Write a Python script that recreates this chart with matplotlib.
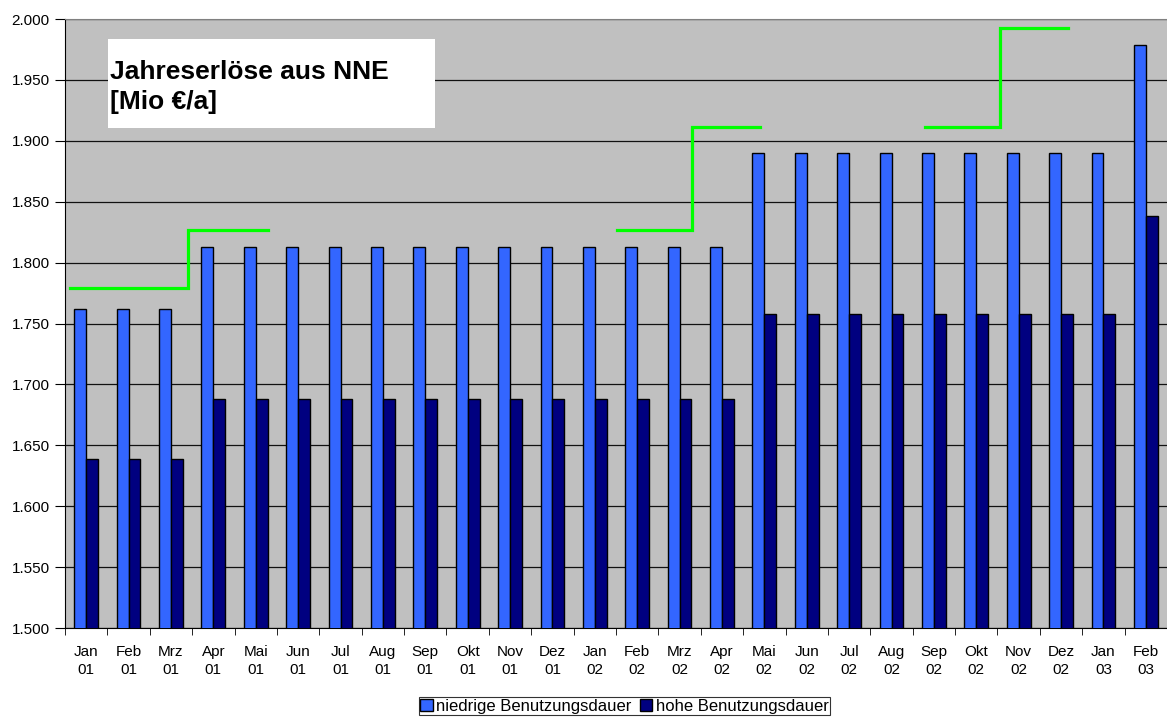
import numpy as np
import matplotlib
matplotlib.use("Agg")
import matplotlib.pyplot as plt
from matplotlib.patches import Rectangle
from matplotlib.ticker import FuncFormatter

plt.rcParams['font.family'] = ['Liberation Sans', 'DejaVu Sans']

# Monate
monate = ["Jan", "Feb", "Mrz", "Apr", "Mai", "Jun", "Jul", "Aug", "Sep", "Okt", "Nov", "Dez",
          "Jan", "Feb", "Mrz", "Apr", "Mai", "Jun", "Jul", "Aug", "Sep", "Okt", "Nov", "Dez",
          "Jan", "Feb"]
jahre = ["01"] * 12 + ["02"] * 12 + ["03"] * 2

# Jahreserlöse [Mio €/a]
niedrige = [1762, 1762, 1762] + [1813] * 13 + [1890] * 9 + [1979]
hohe = [1639, 1639, 1639] + [1688] * 13 + [1758] * 9 + [1838]

# Stufenlinien (Positionen in Kategorien: Start, Sprung, Ende; Niveau vorher/nachher)
stufen_x = [(-0.38, 2.4, 4.29), (12.52, 14.3, 15.9), (19.8, 21.56, 23.17)]
stufen_y = [(1779, 1827), (1827, 1911), (1911, 1993)]

fig = plt.figure(figsize=(11.67, 7.17), dpi=100)
ax = fig.add_axes([0.0557, 0.1241, 0.9443, 0.8494])
ax.set_facecolor("#c0c0c0")

x = np.arange(len(monate))
b = 0.28
ax.bar(x - b / 2, niedrige, width=b, color="#3366ff", edgecolor="black", linewidth=1,
       label="niedrige Benutzungsdauer", zorder=3)
ax.bar(x + b / 2, hohe, width=b, color="#000080", edgecolor="black", linewidth=1,
       label="hohe Benutzungsdauer", zorder=3)

for (x0, x1, x2), (y0, y1) in zip(stufen_x, stufen_y):
    ax.plot([x0, x1, x1, x2], [y0, y0, y1, y1], color="#00ff00", linewidth=2.3, zorder=4,
            solid_joinstyle="miter")

ax.set_xlim(-0.5, len(monate) - 0.5)
ax.set_ylim(1500, 2000)
ax.set_yticks(np.arange(1500, 2001, 50))
ax.yaxis.set_major_formatter(FuncFormatter(lambda v, p: f"{v:,.0f}".replace(",", ".")))
ax.grid(axis="y", color="#111111", linewidth=0.9, zorder=1)

ax.set_xticks(x)
ax.set_xticklabels([m + "\n" + j for m, j in zip(monate, jahre)], fontsize=11,
                   linespacing=1.35)
ax.tick_params(axis="x", length=0, pad=12)
ax.set_xticks(np.arange(-0.5, len(monate)), minor=True)
ax.tick_params(axis="x", which="minor", length=5, direction="out", color="black")
ax.tick_params(axis="y", labelsize=11, length=7, pad=4, direction="out")

ax.spines["right"].set_visible(False)
ax.spines["top"].set_color("#808080")
ax.spines["left"].set_color("black")
ax.spines["bottom"].set_color("black")

# Titelkasten
ax.add_patch(Rectangle((0.039, 0.821), 0.297, 0.146, transform=ax.transAxes,
                       facecolor="white", edgecolor="none", zorder=5))
ax.text(0.041, 0.932, "Jahreserlöse aus NNE\n[Mio €/a]", transform=ax.transAxes,
        fontsize=19, fontweight="bold", va="top", ha="left", zorder=6, linespacing=1.3)

leg = fig.legend(loc="upper center", bbox_to_anchor=(0.535, 0.028), ncol=2, fontsize=12,
                 frameon=True, fancybox=False, edgecolor="black", handlelength=0.75,
                 handleheight=0.75, handletextpad=0.2, columnspacing=0.5, borderpad=0.1,
                 borderaxespad=0)
leg.get_frame().set_linewidth(0.8)

fig.savefig("out.png", dpi=100)
